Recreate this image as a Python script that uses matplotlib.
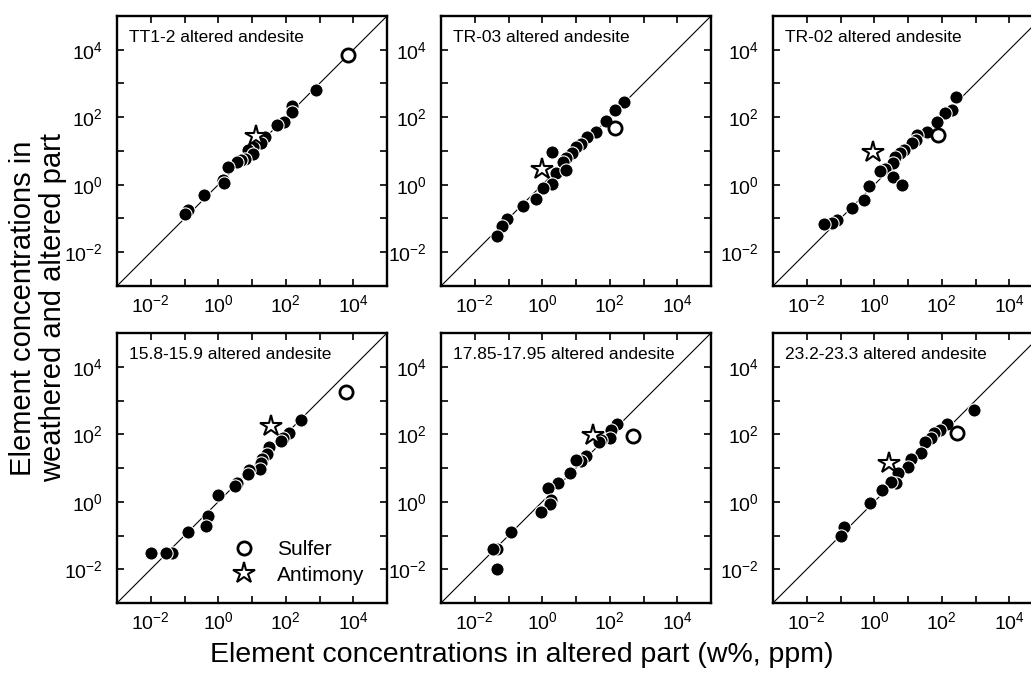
import numpy as np
import matplotlib
matplotlib.use("Agg")
import matplotlib.pyplot as plt
from matplotlib.ticker import FixedLocator, FuncFormatter, NullFormatter

plt.rcParams['font.family'] = ['Liberation Sans', 'DejaVu Sans']
plt.rcParams['mathtext.default'] = 'regular'

# panel titles
titles = ["TT1-2 altered andesite", "TR-03 altered andesite", "TR-02 altered andesite",
          "15.8-15.9 altered andesite", "17.85-17.95 altered andesite", "23.2-23.3 altered andesite"]

# filled circles: altered part (x) vs weathered and altered part (y)
tt12_x = [790, 150, 150, 89, 56, 24, 19, 11, 7.6, 11, 6.0, 4.8, 3.5, 1.9, 1.4, 1.5, 0.37, 0.13, 0.10]
tt12_y = [660, 220, 140, 72, 60, 26, 17, 13, 11, 7.9, 5.9, 5.4, 4.7, 3.4, 1.4, 1.1, 0.49, 0.18, 0.14]
tr03_x = [260, 145, 79, 39, 21, 14, 10, 7.4, 5.2, 4.0, 1.9, 2.6, 5.2, 2.0, 1.07, 0.65, 0.26, 0.093, 0.065, 0.047]
tr03_y = [280, 160, 78, 37, 26, 16, 13, 8.5, 6.3, 4.8, 9.3, 2.3, 2.7, 1.05, 0.79, 0.39, 0.24, 0.098, 0.062, 0.031]
tr02_x = [260, 195, 126, 71, 36, 19, 17, 13, 7.8, 5.6, 4.2, 3.7, 2.1, 1.5, 3.5, 6.6, 0.71, 0.50, 0.22, 0.078, 0.056, 0.033]
tr02_y = [410, 160, 135, 72, 36, 29, 21, 17, 11, 8.9, 6.6, 4.3, 3.0, 2.5, 1.7, 0.98, 0.89, 0.35, 0.20, 0.093, 0.074, 0.071]
d158_x = [275, 126, 83, 74, 32, 28, 20, 19, 17, 7.9, 7.4, 3.5, 3.2, 1.0, 0.49, 0.42, 0.13, 0.042, 0.028, 0.010]
d158_y = [257, 110, 79, 63, 41, 26, 19, 14, 9.1, 8.7, 6.6, 3.5, 3.0, 1.6, 0.37, 0.19, 0.13, 0.031, 0.031, 0.031]
d1785_x = [162, 107, 100, 55, 49, 20, 14, 10, 6.5, 2.9, 1.5, 1.8, 1.7, 0.89, 0.115, 0.047, 0.035, 0.047]
d1785_y = [195, 135, 78, 69, 59, 23, 16, 17, 7.1, 3.6, 2.6, 1.1, 0.85, 0.50, 0.123, 0.039, 0.039, 0.010]
d232_x = [930, 145, 89, 59, 49, 31, 24, 12, 10, 4.9, 4.4, 3.1, 1.7, 0.76, 0.13, 0.10]
d232_y = [525, 200, 138, 112, 76, 60, 27, 18, 11, 6.9, 3.6, 3.9, 2.2, 0.93, 0.18, 0.10]

# sulfer (open circle) and antimony (open star) for each panel
sulfer_x = [7100, 140, 76, 5900, 500, 290]
sulfer_y = [7200, 49, 29, 1800, 91, 107]
antimony_x = [13, 1.0, 0.95, 37, 31, 2.8]
antimony_y = [27, 2.9, 9.3, 180, 98, 14]

all_x = [tt12_x, tr03_x, tr02_x, d158_x, d1785_x, d232_x]
all_y = [tt12_y, tr03_y, tr02_y, d158_y, d1785_y, d232_y]

lims = [1e-3, 1e5]
major_ticks = [1e-2, 1e0, 1e2, 1e4]          # labelled
minor_ticks = [1e-3, 1e-1, 1e1, 1e3, 1e5]    # tick marks only

fig = plt.figure(figsize=(10.31, 6.78), dpi=100)
W, H = 1031, 678
lefts = [117, 441, 773]
tops = [16, 333]
size = 270


def fmt(v, pos):
    return r'$10^{%d}$' % int(round(np.log10(v)))


for i in range(6):
    r, c = divmod(i, 3)
    ax = fig.add_axes([lefts[c] / W, (H - tops[r] - size) / H, size / W, size / H])
    ax.set_xscale('log')
    ax.set_yscale('log')
    ax.plot(lims, lims, color='black', lw=0.8, zorder=1)
    ax.plot(all_x[i], all_y[i], 'o', ms=9.5, mfc='black', mec='white', mew=0.8, zorder=2)
    ax.plot(sulfer_x[i], sulfer_y[i], 'o', ms=9.5, mfc='white', mec='black', mew=2.0,
            zorder=3, label='Sulfer')
    ax.plot(antimony_x[i], antimony_y[i], '*', ms=16, mfc='white', mec='black', mew=1.5,
            zorder=3, label='Antimony')
    ax.set_xlim(lims)
    ax.set_ylim(lims)
    for a in (ax.xaxis, ax.yaxis):
        a.set_major_locator(FixedLocator(major_ticks))
        a.set_minor_locator(FixedLocator(minor_ticks))
        a.set_major_formatter(FuncFormatter(fmt))
        a.set_minor_formatter(NullFormatter())
    ax.tick_params(which='both', direction='in', length=5, width=1.2,
                   top=True, right=True, labelsize=14)
    ax.tick_params(which='minor', labelbottom=False, labelleft=False)
    ax.tick_params(axis='x', pad=6)
    ax.tick_params(axis='y', pad=10)
    for s in ax.spines.values():
        s.set_linewidth(1.7)
    ax.text(0.045, 0.92, titles[i], transform=ax.transAxes, fontsize=12.5, va='center', ha='left')
    if i == 3:
        ax.legend(loc='center left', bbox_to_anchor=(0.43, 0.15), frameon=False,
                  fontsize=15, numpoints=1, handlelength=1.0, handletextpad=1.1,
                  labelspacing=0.3, borderpad=0, borderaxespad=0)

fig.text(522 / W, 1 - 655 / H, 'Element concentrations in altered part (w%, ppm)',
         ha='center', va='center', fontsize=20.5)
fig.text(38 / W, 1 - 308 / H, 'Element concentrations in\nweathered and altered part',
         ha='center', va='center', rotation=90, fontsize=21, linespacing=1.05)

fig.savefig('out.png', dpi=100)
